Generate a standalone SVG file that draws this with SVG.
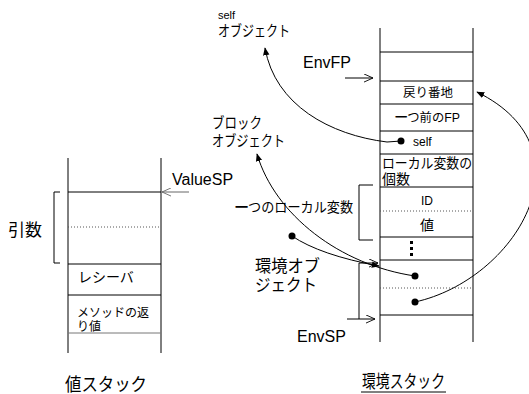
<svg xmlns="http://www.w3.org/2000/svg" width="529" height="394" viewBox="0 0 529 394">
<defs>
<marker id="fa" viewBox="0 0 10 10" refX="9" refY="5" markerWidth="8" markerHeight="8" markerUnits="userSpaceOnUse" orient="auto"><path d="M0,1 L10,5 L0,9 Z" fill="#000"/></marker>
<marker id="oa" viewBox="0 0 10 10" refX="10" refY="5" markerWidth="9" markerHeight="9" markerUnits="userSpaceOnUse" orient="auto"><path d="M0,0.5 L10,5 L0,9.5" fill="none" stroke="#000" stroke-width="1"/></marker>
<marker id="og" viewBox="0 0 10 10" refX="10" refY="5" markerWidth="9" markerHeight="9" markerUnits="userSpaceOnUse" orient="auto"><path d="M0,0.5 L10,5 L0,9.5" fill="none" stroke="#666" stroke-width="1"/></marker>
</defs>
<style>
text{font-family:"Liberation Sans","Noto Sans CJK JP",sans-serif;fill:#000}
.ln{stroke:#000;stroke-width:1;fill:none}
.dt{stroke:#555;stroke-width:1;stroke-dasharray:1 2;fill:none}
.c{text-anchor:middle}
.s13{font-size:12px}
.s14{font-size:14px}
.s16{font-size:16px}
</style>
<rect width="529" height="394" fill="#fff"/>

<g id="value-stack">
<line class="ln" x1="68" y1="158" x2="68" y2="353"/>
<line class="ln" x1="161" y1="158" x2="161" y2="353"/>
<line class="ln" x1="68" y1="192" x2="161" y2="192"/>
<line class="dt" x1="68" y1="227" x2="161" y2="227"/>
<line class="ln" x1="68" y1="264" x2="161" y2="264"/>
<line class="ln" x1="68" y1="295" x2="161" y2="295"/>
<line x1="68" y1="333" x2="161" y2="333" stroke="#777" stroke-width="1"/>
<text x="78" y="282" class="s14">レシーバ</text>
<text x="77" y="317" class="s13">メソッドの返</text>
<text x="77" y="331" class="s13">り値</text>
<text x="65" y="391" font-size="18" textLength="82" lengthAdjust="spacingAndGlyphs">値スタック</text>
</g>

<g id="args-bracket">
<path class="ln" d="M60,192 H54 V263 H60"/>
<text x="8" y="236" font-size="17">引数</text>
</g>

<g id="valuesp">
<text x="172" y="185" class="s16">ValueSP</text>
</g>

<g id="env-stack">
<line class="ln" x1="380" y1="28" x2="380" y2="342"/>
<line class="ln" x1="473" y1="28" x2="473" y2="342"/>
<line class="ln" x1="380" y1="52" x2="473" y2="52"/>
<line class="ln" x1="380" y1="81" x2="473" y2="81"/>
<line class="ln" x1="380" y1="104" x2="473" y2="104"/>
<line class="ln" x1="380" y1="131" x2="473" y2="131"/>
<line class="ln" x1="380" y1="154" x2="473" y2="154"/>
<line class="ln" x1="380" y1="187" x2="473" y2="187"/>
<line class="dt" x1="380" y1="211" x2="473" y2="211"/>
<line class="ln" x1="380" y1="237" x2="473" y2="237"/>
<line class="ln" x1="380" y1="260" x2="473" y2="260"/>
<line class="dt" x1="380" y1="288" x2="473" y2="288"/>
<line class="ln" x1="380" y1="315" x2="473" y2="315"/>
<text x="403" y="97" class="s13" textLength="50" lengthAdjust="spacingAndGlyphs">戻り番地</text>
<text x="395" y="122" class="s13" textLength="65" lengthAdjust="spacingAndGlyphs"><tspan font-weight="bold">一</tspan>つ前のFP</text>
<text x="413" y="146" class="s13">self</text>
<circle cx="401" cy="141" r="3.5" fill="#000"/>
<text x="382" y="168" class="s14" textLength="90" lengthAdjust="spacingAndGlyphs">ローカル変数の</text>
<text x="382" y="184" class="s14">個数</text>
<text x="427" y="205" class="s13 c">ID</text>
<text x="427" y="230" class="s14 c">値</text>
<rect x="410" y="241" width="3" height="3" fill="#000"/>
<rect x="410" y="247" width="3" height="3" fill="#000"/>
<rect x="410" y="253" width="3" height="3" fill="#000"/>
<circle cx="415" cy="276" r="3.5" fill="#000"/>
<circle cx="415" cy="302" r="3.5" fill="#000"/>
<text x="362" y="388" font-size="18" textLength="83" lengthAdjust="spacingAndGlyphs">環境スタック</text>
<line class="ln" x1="361" y1="392" x2="446" y2="392"/>
</g>

<g id="labels">
<text x="218" y="19" font-size="11">self</text>
<text x="218" y="36" font-size="15" textLength="72" lengthAdjust="spacingAndGlyphs">オブジェクト</text>
<text x="303" y="68" class="s16">EnvFP</text>
<text x="212" y="128" font-size="15" textLength="50" lengthAdjust="spacingAndGlyphs">ブロック</text>
<text x="212" y="146" font-size="15" textLength="73" lengthAdjust="spacingAndGlyphs">オブジェクト</text>
<text x="235" y="212" class="s14" textLength="118" lengthAdjust="spacingAndGlyphs"><tspan font-weight="bold">一</tspan>つのローカル変数</text>
<text x="255" y="272" font-size="17" textLength="65" lengthAdjust="spacingAndGlyphs">環境オブ</text>
<text x="255" y="291" font-size="17" textLength="62" lengthAdjust="spacingAndGlyphs">ジェクト</text>
<text x="297" y="342" class="s16">EnvSP</text>
</g>

<g id="brackets">
<path class="ln" d="M373,185 H359 V240 H373"/>
<line class="ln" x1="359" y1="263" x2="359" y2="319"/>
</g>

<g id="connectors">
<line x1="189" y1="192" x2="162" y2="192" stroke="#666" stroke-width="1" marker-end="url(#og)"/>
<line class="ln" x1="345" y1="78" x2="373" y2="78" marker-end="url(#oa)"/>
<line class="ln" x1="359" y1="263" x2="378" y2="263" marker-end="url(#oa)"/>
<line class="ln" x1="347" y1="319" x2="375" y2="319" marker-end="url(#oa)"/>
<path class="ln" d="M401,141 L387,142 C330,135 275,105 265,48" marker-end="url(#fa)"/>
<path class="ln" d="M415,276 C340,265 275,215 257,154" marker-end="url(#fa)"/>
<circle cx="292" cy="236" r="3.5" fill="#000"/>
<path class="ln" d="M292,236 Q320,255 379,266" marker-end="url(#fa)"/>
<path class="ln" d="M415,302 C515,280 595,150 477,92" marker-end="url(#fa)"/>
</g>
</svg>
